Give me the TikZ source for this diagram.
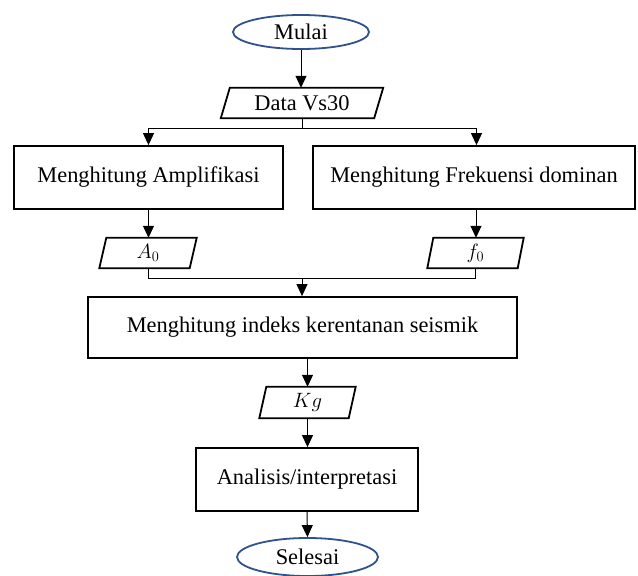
\documentclass[tikz,border=0pt]{standalone}
\usepackage{fontspec}
\setmainfont{Liberation Serif}
\usetikzlibrary{shapes.geometric,arrows.meta}
\definecolor{ovalblue}{RGB}{47,82,143}
\begin{document}
\begin{tikzpicture}[x=1pt,y=-1pt,
  font=\fontsize{22.4}{26}\selectfont,
  box/.style={draw,line width=1.8pt,inner sep=0pt},
  term/.style={ellipse,draw=ovalblue,line width=1.8pt,fill=white,inner sep=0pt},
  io/.style={inner sep=0pt},
  para/.style={line width=1.8pt},
  conn/.style={line width=1pt},
  arr/.style={conn,-{Triangle[width=11pt,length=12pt]}}]
\useasboundingbox (0,0) rectangle (638,576);

\node[term,minimum width=136,minimum height=34] (mulai) at (301,32) {Mulai};

\node[io,minimum width=162,minimum height=30] (data) at (302,103) {Data Vs30};
\draw[para] (data.south west) -- ([xshift=9pt]data.north west) -- (data.north east) -- ([xshift=-9pt]data.south east) -- cycle;

\node[box,minimum width=269,minimum height=63] (amp) at (148.5,177.5) {Menghitung Amplifikasi};
\node[box,minimum width=322,minimum height=63] (frek) at (474,177.5) {Menghitung Frekuensi dominan};

\node[io,minimum width=97,minimum height=30] (a0) at (148,253) {$A_0$};
\draw[para] (a0.south west) -- ([xshift=7pt]a0.north west) -- (a0.north east) -- ([xshift=-7pt]a0.south east) -- cycle;
\node[io,minimum width=96,minimum height=30] (f0) at (475.5,253) {$f_0$};
\draw[para] (f0.south west) -- ([xshift=6pt]f0.north west) -- (f0.north east) -- ([xshift=-6pt]f0.south east) -- cycle;

\node[box,minimum width=429,minimum height=61] (main) at (302.5,327.5) {Menghitung indeks kerentanan seismik};

\node[io,minimum width=96,minimum height=31] (kg) at (307.5,402.5) {$Kg$};
\draw[para] (kg.south west) -- ([xshift=7pt]kg.north west) -- (kg.north east) -- ([xshift=-7pt]kg.south east) -- cycle;

\node[box,minimum width=222,minimum height=63] (anal) at (307,479.5) {Analisis/interpretasi};

\node[term,minimum width=141,minimum height=38] (selesai) at (307.5,557) {Selesai};

% connectors
\draw[arr] (mulai.south) -- (mulai.south |- data.north);
\coordinate (split) at (302,128);
\draw[conn] (data.south) -- (split);
\draw[arr] (split) -| (amp.north);
\draw[arr] (split) -| ([xshift=2.5pt]frek.north);
\draw[arr] (amp.south) -- (amp.south |- a0.north);
\draw[arr] ([xshift=2pt]frek.south) -- ([xshift=2pt]frek.south |- f0.north);
\coordinate (merge) at (302,278);
\draw[conn] (a0.south) |- (merge);
\draw[conn] (f0.south) |- (merge);
\draw[arr] (merge) -- (merge |- main.north);
\draw[arr] (kg.north |- main.south) -- (kg.north);
\draw[arr] (kg.south) -- (kg.south |- anal.north);
\draw[arr] (anal.south) -- (selesai.north);
\end{tikzpicture}
\end{document}
